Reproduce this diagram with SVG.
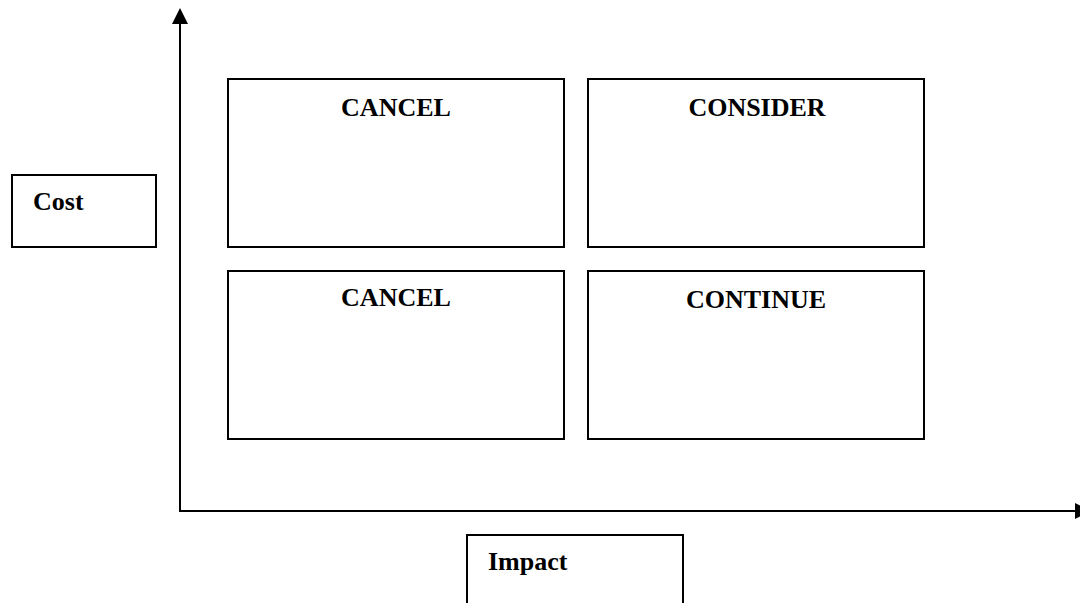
<svg xmlns="http://www.w3.org/2000/svg" width="1080" height="603" viewBox="0 0 1080 603">
  <style>
    .box { fill: #ffffff; stroke: #000000; stroke-width: 2; }
    .lbl { font-family: "Liberation Serif", "Times New Roman", serif; font-weight: bold; font-size: 26px; fill: #000000; }
    .axis { stroke: #000000; stroke-width: 2; fill: none; }
  </style>
  <defs>
    <marker id="arrow" viewBox="0 0 16 16" refX="0" refY="8" markerWidth="16" markerHeight="16" markerUnits="userSpaceOnUse" orient="auto">
      <path d="M0,0 L16,8 L0,16 Z" fill="#000000"/>
    </marker>
  </defs>
  <rect width="1080" height="603" fill="#ffffff"/>
  <g id="connectors">
    <path class="axis" d="M180,511 L180,24" marker-end="url(#arrow)"/>
    <path class="axis" d="M179,511 L1075,511" marker-end="url(#arrow)"/>
  </g>
  <g id="cost">
    <rect class="box" x="12" y="175" width="144" height="72"/>
    <text class="lbl" x="33" y="210">Cost</text>
  </g>
  <g id="impact">
    <rect class="box" x="467" y="535" width="216" height="80"/>
    <text class="lbl" x="488" y="570">Impact</text>
  </g>
  <g id="cancel-top">
    <rect class="box" x="228" y="79" width="336" height="168"/>
    <text class="lbl" x="396" y="116" text-anchor="middle">CANCEL</text>
  </g>
  <g id="consider">
    <rect class="box" x="588" y="79" width="336" height="168"/>
    <text class="lbl" x="757" y="116" text-anchor="middle">CONSIDER</text>
  </g>
  <g id="cancel-bottom">
    <rect class="box" x="228" y="271" width="336" height="168"/>
    <text class="lbl" x="396" y="306" text-anchor="middle">CANCEL</text>
  </g>
  <g id="continue">
    <rect class="box" x="588" y="271" width="336" height="168"/>
    <text class="lbl" x="756" y="308" text-anchor="middle">CONTINUE</text>
  </g>
</svg>
